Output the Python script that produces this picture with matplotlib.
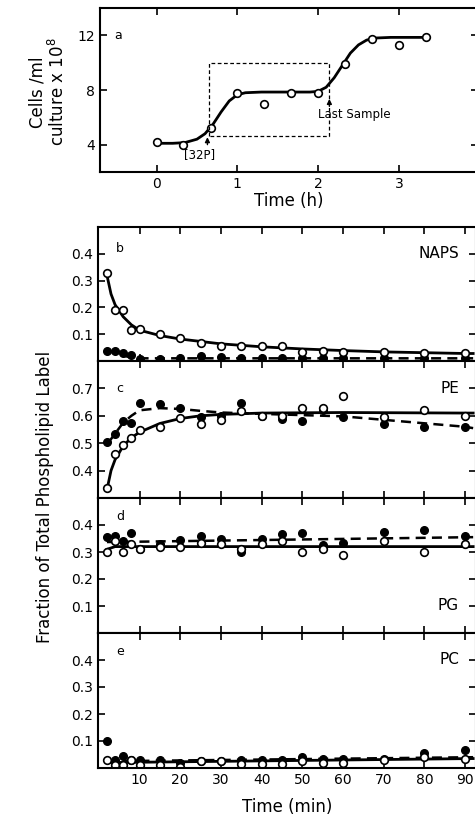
import numpy as np
import matplotlib
matplotlib.use('Agg')
from matplotlib import pyplot as plt

plt.rcParams['font.family'] = ['DejaVu Sans']

# panel a: cell growth
t_h = [0, 0.33, 0.67, 1.0, 1.33, 1.67, 2.0, 2.33, 2.67, 3.0, 3.33]
cells = [4.2, 4.0, 5.2, 7.8, 7.0, 7.8, 7.8, 9.9, 11.7, 11.3, 11.9]
fit_t_h = [0.0, 0.2, 0.35, 0.5, 0.6, 0.7, 0.8, 0.9, 1.0, 1.1, 1.3, 1.6, 1.9, 2.0, 2.1, 2.2, 2.3, 2.4, 2.5, 2.6, 2.7, 2.9, 3.35]
fit_cells = [4.1, 4.1, 4.15, 4.4, 4.8, 5.5, 6.4, 7.2, 7.65, 7.8, 7.85, 7.85, 7.85, 7.9, 8.2, 8.9, 9.8, 10.7, 11.3, 11.65, 11.8, 11.85, 11.85]

# panels b-e: fraction of label
t_min = [2, 4, 6, 8, 10, 15, 20, 25, 30, 35, 40, 45, 50, 55, 60, 70, 80, 90]

naps_open = [0.33, 0.19, 0.19, 0.115, 0.12, 0.10, 0.085, 0.068, 0.055, 0.056, 0.056, 0.056, 0.035, 0.037, 0.035, 0.035, 0.03, 0.03]
naps_fill = [0.037, 0.037, 0.03, 0.022, 0.008, 0.008, 0.01, 0.018, 0.015, 0.01, 0.01, 0.01, 0.01, 0.01, 0.01, 0.01, 0.01, 0.012]
naps_fit_t = [2, 3, 4, 6, 8, 10, 15, 20, 30, 40, 50, 60, 70, 80, 90, 92]
naps_fit_open = [0.32, 0.25, 0.21, 0.165, 0.135, 0.115, 0.095, 0.082, 0.064, 0.053, 0.045, 0.039, 0.034, 0.031, 0.028, 0.028]
naps_fit_fill = [0.036, 0.034, 0.03, 0.02, 0.013, 0.01, 0.01, 0.01, 0.01, 0.01, 0.01, 0.01, 0.01, 0.01, 0.01, 0.01]

pe_open = [0.337, 0.46, 0.493, 0.518, 0.548, 0.56, 0.593, 0.57, 0.585, 0.618, 0.60, 0.60, 0.63, 0.63, 0.674, 0.596, 0.62, 0.60]
pe_fill = [0.504, 0.533, 0.58, 0.575, 0.648, 0.643, 0.627, 0.595, 0.60, 0.648, 0.60, 0.59, 0.58, 0.62, 0.596, 0.57, 0.56, 0.56]
pe_fit_t = [2, 3, 4, 6, 8, 10, 15, 20, 25, 30, 40, 60, 90, 92]
pe_fit_open = [0.33, 0.40, 0.44, 0.49, 0.52, 0.54, 0.572, 0.59, 0.60, 0.605, 0.61, 0.612, 0.61, 0.61]
pe_fit_fill = [0.50, 0.515, 0.535, 0.575, 0.60, 0.62, 0.628, 0.625, 0.618, 0.612, 0.607, 0.598, 0.56, 0.555]

pg_open = [0.30, 0.34, 0.30, 0.33, 0.31, 0.32, 0.32, 0.335, 0.33, 0.31, 0.33, 0.34, 0.30, 0.31, 0.29, 0.34, 0.30, 0.33]
pg_fill = [0.355, 0.36, 0.34, 0.37, 0.31, 0.33, 0.345, 0.36, 0.35, 0.30, 0.35, 0.365, 0.37, 0.325, 0.335, 0.375, 0.38, 0.36]
pg_fit_t = [2, 4, 92]
pg_fit_open = [0.31, 0.32, 0.32]
pg_fit_fill = [0.337, 0.337, 0.355]

pc_open = [0.03, 0.01, 0.01, 0.03, 0.01, 0.01, 0.005, 0.025, 0.025, 0.015, 0.015, 0.015, 0.025, 0.02, 0.02, 0.03, 0.04, 0.035]
pc_fill = [0.10, 0.03, 0.045, 0.03, 0.03, 0.03, 0.02, 0.025, 0.025, 0.03, 0.03, 0.03, 0.04, 0.035, 0.035, 0.035, 0.055, 0.065]
pc_fit_t = [2, 92]
pc_fit_open = [0.02, 0.035]
pc_fit_fill = [0.025, 0.04]

W, H = 475, 821
fig = plt.figure(figsize=(W / 100, H / 100), dpi=100)

def box(l, t, r, b):
    return [l / W, 1 - b / H, (r - l) / W, (b - t) / H]

# ---- panel a
ax = fig.add_axes(box(100, 8, 478, 172))
ax.plot(fit_t_h, fit_cells, color='k', lw=2)
ax.plot(t_h, cells, 'o', mfc='white', mec='k', ms=5.5, mew=1.2)
ax.set_xlim(-0.7, 3.98)
ax.set_ylim(2, 14)
ax.set_xticks([0, 1, 2, 3])
ax.set_yticks([4, 8, 12])
ax.tick_params(direction='in', top=True, right=True, labelsize=10, length=5, width=1.2)
for s in ax.spines.values():
    s.set_linewidth(1.5)
ax.plot([0.65, 0.65, 2.14, 2.14, 0.65], [4.67, 10.0, 10.0, 4.67, 4.67], 'k--', lw=0.9, dashes=(3, 2))
ax.annotate('', xy=(0.63, 4.75), xytext=(0.63, 3.8),
            arrowprops=dict(arrowstyle='-|>', color='k', lw=1, mutation_scale=7))
ax.text(0.53, 3.3, '[32P]', fontsize=8.5, ha='center', va='center')
ax.annotate('', xy=(2.14, 7.55), xytext=(2.14, 6.6),
            arrowprops=dict(arrowstyle='-|>', color='k', lw=1, mutation_scale=7))
ax.text(2.45, 6.2, 'Last Sample', fontsize=8.5, ha='center', va='center')
ax.text(-0.48, 12.0, 'a', fontsize=9, ha='center', va='center')
ax.set_xlabel('Time (h)', fontsize=12, labelpad=1)
fig.text(48 / W, 1 - 92 / H, 'Cells /ml\nculture x 10$^8$', rotation=90, fontsize=12,
         ha='center', va='center', linespacing=1.1)

# ---- panels b-e
panels = [
    ('b', 'NAPS', (0, 0.5), [0.1, 0.2, 0.3, 0.4], naps_open, naps_fill, naps_fit_t, naps_fit_open, naps_fit_fill, 0.42, 0.40),
    ('c', 'PE', (0.3, 0.8), [0.4, 0.5, 0.6, 0.7], pe_open, pe_fill, pe_fit_t, pe_fit_open, pe_fit_fill, 0.70, 0.70),
    ('d', 'PG', (0, 0.5), [0.1, 0.2, 0.3, 0.4], pg_open, pg_fill, pg_fit_t, pg_fit_open, pg_fit_fill, 0.43, 0.10),
    ('e', 'PC', (0, 0.5), [0.1, 0.2, 0.3, 0.4], pc_open, pc_fill, pc_fit_t, pc_fit_open, pc_fit_fill, 0.43, 0.40),
]
tops = [227, 361, 498, 633, 768]
for i, (lab, name, ylim, yt, yo, yf, ft, fo, ff, laby, namey) in enumerate(panels):
    ax = fig.add_axes(box(98, tops[i], 476, tops[i + 1]))
    ax.plot(ft, ff, color='k', lw=1.8, ls=(0, (4, 2.5)))
    ax.plot(ft, fo, color='k', lw=2)
    ax.plot(t_min, yf, 'o', mfc='k', mec='k', ms=5.5)
    ax.plot(t_min, yo, 'o', mfc='white', mec='k', ms=5.5, mew=1.2)
    ax.set_xlim(-0.2, 92.7)
    ax.set_ylim(*ylim)
    ax.set_yticks(yt)
    ax.set_yticklabels(['%.1f' % v for v in yt])
    ax.set_xticks(range(10, 100, 10))
    ax.tick_params(direction='in', top=True, right=True, labelsize=10, length=5, width=1.2)
    if i < 3:
        ax.tick_params(labelbottom=False)
    else:
        ax.set_xlabel('Time (min)', fontsize=12, labelpad=8)
    for s in ax.spines.values():
        s.set_linewidth(1.5)
    ax.text(5.2, laby, lab, fontsize=9, ha='center', va='center')
    ax.text(88.5, namey, name, fontsize=11, ha='right', va='center')

fig.text(45 / W, 1 - 497 / H, 'Fraction of Total Phospholipid Label', rotation=90,
         fontsize=12, ha='center', va='center')

fig.savefig('out.png', dpi=100)
